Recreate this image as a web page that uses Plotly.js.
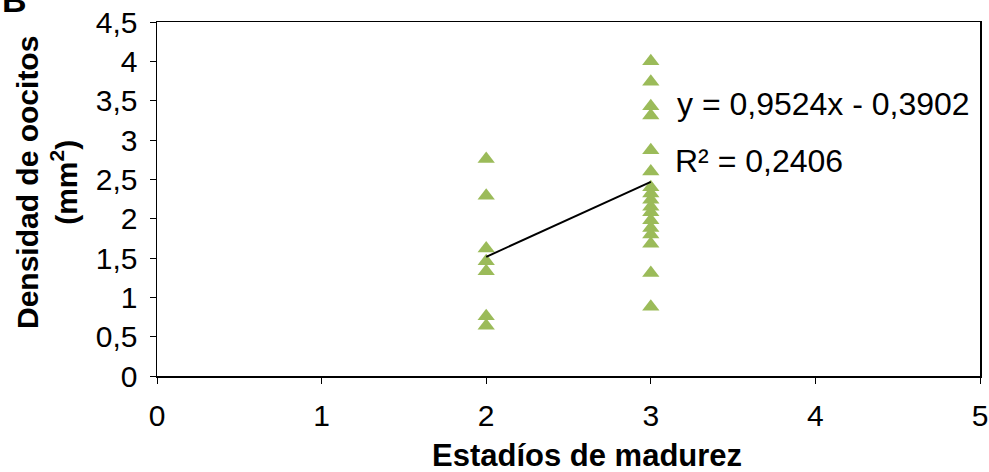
<!DOCTYPE html>
<html>
<head>
<meta charset="utf-8">
<script src="https://cdn.plot.ly/plotly-3.0.1.min.js"></script>
<style>html,body{margin:0;padding:0;background:#fff;}</style>
</head>
<body>
<div id="chart" style="width:989px;height:472px;"></div>
<script>
const stage2X = [2, 2, 2, 2, 2, 2, 2];
const stage2Y = [2.76, 2.29, 1.62, 1.46, 1.33, 0.76, 0.64];
const stage3X = [3, 3, 3, 3, 3, 3, 3, 3, 3, 3, 3, 3, 3, 3, 3, 3, 3];
const stage3Y = [4.0, 3.74, 3.43, 3.31, 2.87, 2.60, 2.40, 2.32, 2.24, 2.15, 2.08, 1.98, 1.88, 1.80, 1.68, 1.31, 0.88];
const slope = 0.9524;
const intercept = -0.3902;
const r2 = 0.2406;
const trendX = [2, 3];
const xTicks = [0, 1, 2, 3, 4, 5];
const yTicks = [0, 0.5, 1, 1.5, 2, 2.5, 3, 3.5, 4, 4.5];
const yTickText = ['0', '0,5', '1', '1,5', '2', '2,5', '3', '3,5', '4', '4,5'];
const xTitle = 'Estadíos de madurez';
const yTitle = 'Densidad de oocitos<br>(mm<sup>2</sup>)';

const fmt = v => String(Math.abs(v)).replace('.', ',');
const trendY = trendX.map(x => slope * x + intercept);

const marker = {symbol: 'triangle-up', size: 15, color: '#9BBB59'};
const data = [
  {x: stage2X.concat(stage3X), y: stage2Y.concat(stage3Y), type: 'scatter', mode: 'markers', marker: marker},
  {x: trendX, y: trendY, type: 'scatter', mode: 'lines', line: {color: '#000', width: 2}}
];

const fam = 'Liberation Sans, Arial, sans-serif';
const f = s => ({family: fam, color: '#000', size: s});
const L = 157, T = 22, W = 823, H = 354;
const layout = {
  width: 989, height: 472,
  margin: {l: L, r: 989 - L - W, t: T, b: 472 - T - H},
  paper_bgcolor: '#fff', plot_bgcolor: '#fff',
  showlegend: false,
  font: f(30),
  xaxis: {
    range: [0, 5], tickvals: xTicks, ticktext: xTicks.map(String),
    showgrid: false, zeroline: false,
    showline: true, linecolor: '#000', linewidth: 1.5, mirror: true,
    ticks: 'outside', ticklen: 6, tickcolor: '#000', tickwidth: 1,
    tickfont: f(30), ticklabelstandoff: 6
  },
  yaxis: {
    range: [0, 4.5], tickvals: yTicks, ticktext: yTickText,
    showgrid: false, zeroline: false,
    showline: true, linecolor: '#000', linewidth: 1.5, mirror: true,
    ticks: 'outside', ticklen: 6, tickcolor: '#000', tickwidth: 1,
    tickfont: f(30), ticklabelstandoff: 6
  },
  annotations: [
    {xref: 'paper', yref: 'paper', x: (587 - L) / W, y: (T + H - 455) / H, xanchor: 'center', yanchor: 'middle', showarrow: false,
     text: '<b>' + xTitle + '</b>', font: f(31)},
    {xref: 'paper', yref: 'paper', x: (47 - L) / W, y: (T + H - 183) / H, xanchor: 'center', yanchor: 'middle', showarrow: false,
     textangle: -90, text: '<b>' + yTitle + '</b>', font: f(30)},
    {xref: 'x', yref: 'y', x: 3.145, y: 3.46, xanchor: 'left', yanchor: 'middle', showarrow: false,
     text: 'y = ' + fmt(slope) + 'x ' + (intercept < 0 ? '- ' : '+ ') + fmt(intercept), font: f(32)},
    {xref: 'x', yref: 'y', x: 3.135, y: 2.73, xanchor: 'left', yanchor: 'middle', showarrow: false,
     text: 'R² = ' + fmt(r2), font: f(32)},
    {xref: 'paper', yref: 'paper', x: -L / W, y: 1 + T / H, xanchor: 'left', yanchor: 'middle', showarrow: false,
     text: '<b>B</b>', font: f(34)}
  ]
};
Plotly.newPlot('chart', data, layout, {displayModeBar: false, staticPlot: true});
</script>
</body>
</html>
